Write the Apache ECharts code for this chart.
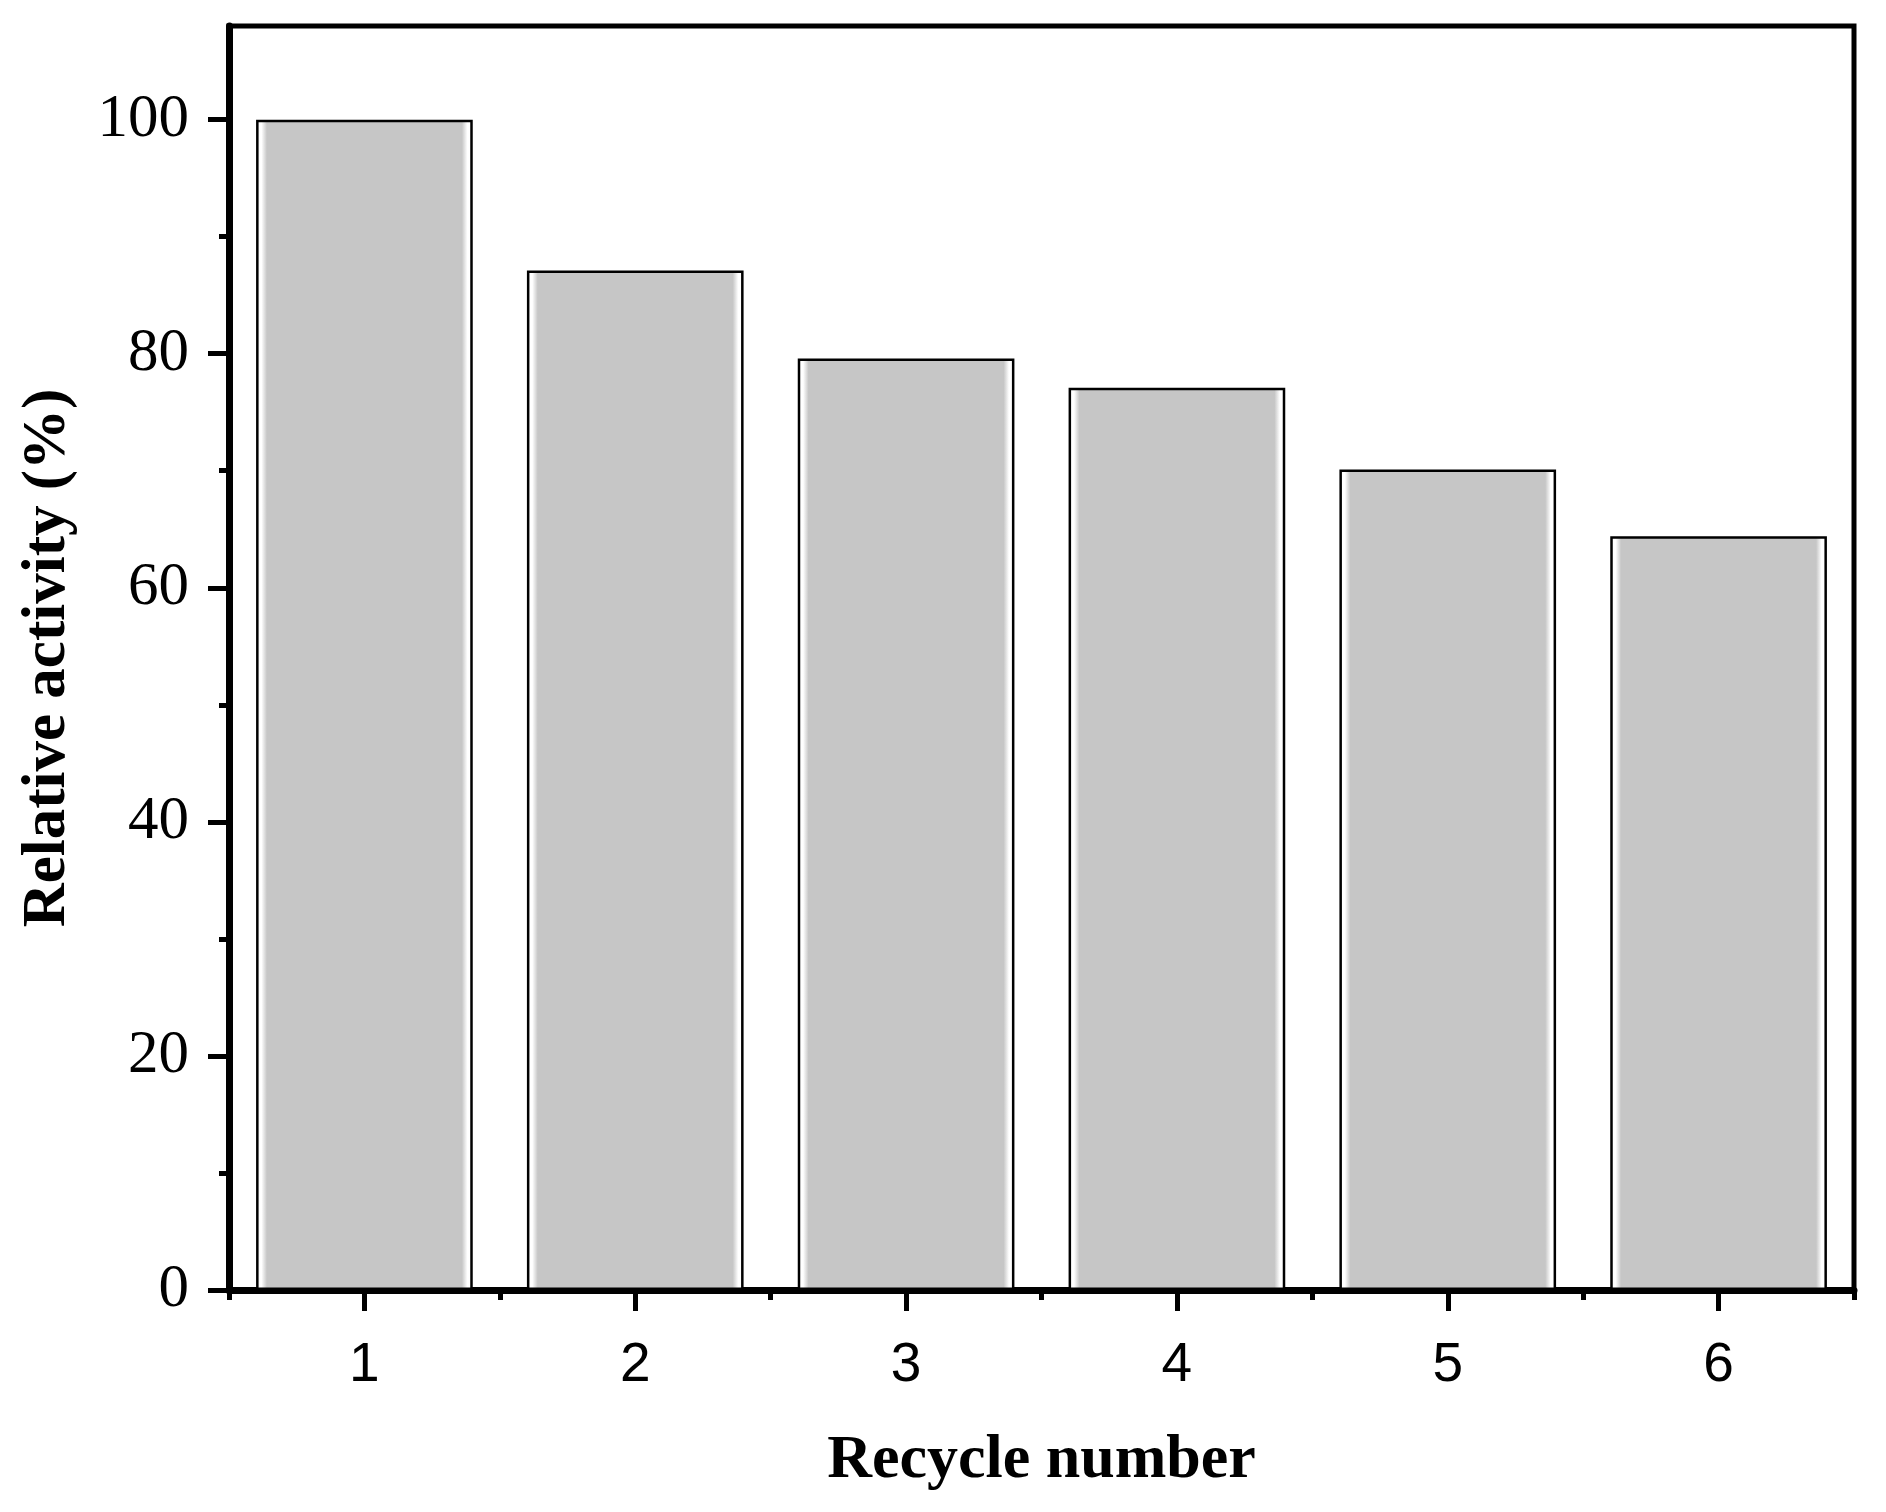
<!DOCTYPE html>
<html>
<head>
<meta charset="utf-8">
<script src="https://cdn.jsdelivr.net/npm/echarts@6/dist/echarts.min.js"></script>
<style>
html,body{margin:0;padding:0;background:#fff;}
#chart{width:1886px;height:1512px;}
</style>
</head>
<body>
<div id="chart"></div>
<script>
const categories = ['1', '2', '3', '4', '5', '6'];
const relativeActivity = [100, 87.1, 79.6, 77.1, 70.1, 64.4];
const yMajorTicks = [0, 20, 40, 60, 80, 100];
const yMinorTicks = [10, 30, 50, 70, 90];
const xTitle = 'Recycle number';
const yTitle = 'Relative activity (%)';

const chart = echarts.init(document.getElementById('chart'), null, {renderer: 'canvas'});
const barFill = new echarts.graphic.LinearGradient(0, 0, 1, 0, [
  {offset: 0, color: '#ffffff'},
  {offset: 0.025, color: '#ffffff'},
  {offset: 0.05, color: '#c6c6c6'},
  {offset: 0.95, color: '#c6c6c6'},
  {offset: 0.975, color: '#ffffff'},
  {offset: 1, color: '#ffffff'}
]);

chart.setOption({
  backgroundColor: '#ffffff',
  animation: false,
  grid: {
    left: 229, right: 32, top: 26, bottom: 222,
    show: true, borderColor: '#000', borderWidth: 5, backgroundColor: 'transparent'
  },
  xAxis: [
    {
      type: 'category', data: categories, boundaryGap: true,
      name: xTitle, nameLocation: 'middle', nameGap: 140,
      nameTextStyle: {fontFamily: 'Liberation Serif', fontWeight: 'bold', fontSize: 62, color: '#000'},
      axisLine: {show: true, lineStyle: {color: '#000', width: 7}},
      axisTick: {show: true, alignWithLabel: true, length: 21, lineStyle: {color: '#000', width: 5}},
      axisLabel: {fontFamily: 'Liberation Sans', fontSize: 55, color: '#000', margin: 48},
      splitLine: {show: false}
    },
    {
      type: 'category', data: categories, boundaryGap: true, position: 'bottom',
      axisLine: {show: false},
      axisTick: {show: true, interval: 0, length: 10, lineStyle: {color: '#000', width: 5}},
      axisLabel: {show: false},
      splitLine: {show: false}
    }
  ],
  yAxis: [
    {
      type: 'value', min: 0, max: 108, interval: 20,
      name: yTitle, nameLocation: 'middle', nameGap: 150,
      nameTextStyle: {fontFamily: 'Liberation Serif', fontWeight: 'bold', fontSize: 61, color: '#000'},
      axisLine: {show: true, lineStyle: {color: '#000', width: 7}},
      axisTick: {show: true, customValues: yMajorTicks, length: 21, lineStyle: {color: '#000', width: 5}},
      axisLabel: {customValues: yMajorTicks, fontFamily: 'Liberation Serif', fontSize: 61, color: '#000', margin: 40},
      splitLine: {show: false}
    },
    {
      type: 'value', min: 0, max: 108, interval: 10, position: 'left',
      axisLine: {show: false},
      axisTick: {show: true, customValues: yMinorTicks, length: 10, lineStyle: {color: '#000', width: 5}},
      axisLabel: {show: false},
      splitLine: {show: false}
    }
  ],
  series: [{
    type: 'bar', xAxisIndex: 0, yAxisIndex: 0,
    data: relativeActivity,
    barCategoryGap: '20%',
    itemStyle: {color: barFill, borderColor: '#000', borderWidth: 2.5}
  }]
});
</script>
</body>
</html>
